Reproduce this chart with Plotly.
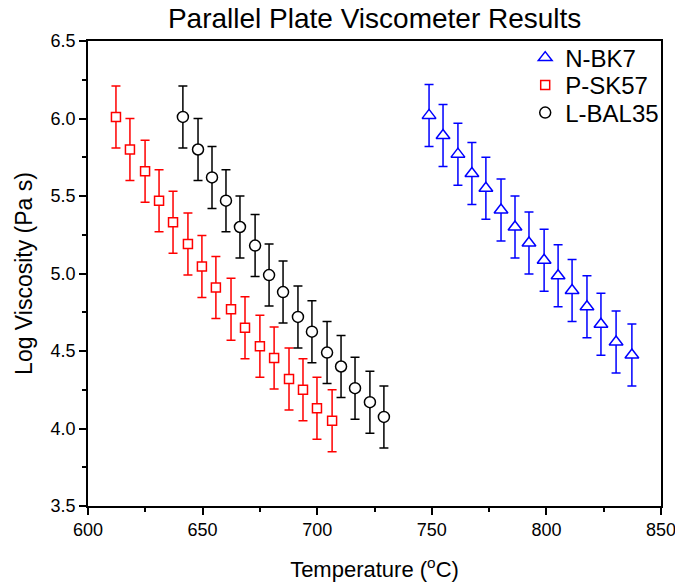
import plotly.graph_objects as go

# N-BK7
bk7_T = [748.8, 754.9, 761.4, 767.5, 773.6, 780.2, 786.3, 792.4, 799.0, 805.1, 811.2, 817.7, 823.8, 830.4, 837.3]
bk7_V = [6.02, 5.89, 5.77, 5.645, 5.55, 5.41, 5.30, 5.197, 5.086, 4.986, 4.89, 4.785, 4.673, 4.558, 4.474]
# P-SK57
psk_T = [612.2, 618.3, 624.9, 631.0, 637.1, 643.6, 649.7, 655.8, 662.4, 668.5, 675.0, 681.2, 687.7, 693.8, 699.9, 706.5]
psk_V = [6.01, 5.80, 5.66, 5.47, 5.33, 5.19, 5.045, 4.91, 4.77, 4.65, 4.53, 4.455, 4.32, 4.25, 4.13, 4.05]
# L-BAL35
bal_T = [641.4, 648.0, 654.1, 660.2, 666.3, 672.9, 679.0, 685.1, 691.6, 697.7, 704.3, 710.4, 716.5, 723.0, 729.1]
bal_V = [6.01, 5.80, 5.62, 5.47, 5.30, 5.18, 4.99, 4.88, 4.72, 4.625, 4.49, 4.40, 4.26, 4.17, 4.075]
err = 0.2

series = [
    ("N-BK7", bk7_T, bk7_V, "#0000FF", "triangle-up", 12, "legend"),
    ("P-SK57", psk_T, psk_V, "#FF0000", "square", 9, "legend2"),
    ("L-BAL35", bal_T, bal_V, "#000000", "circle", 11, "legend3"),
]

fig = go.Figure()
for name, xs, ys, col, sym, sz, lg in series:
    fig.add_trace(go.Scatter(
        x=xs, y=ys, mode="markers", name=name, legend=lg,
        marker=dict(symbol=sym, size=sz, color="white", line=dict(color=col, width=1.5)),
        error_y=dict(type="constant", value=err, color=col, thickness=1.5, width=4.5),
    ))

font_family = "Liberation Sans, Arial, sans-serif"
leg_common = dict(x=0.763, xanchor="left", yanchor="middle",
                  bgcolor="rgba(0,0,0,0)", font=dict(size=24), itemwidth=30)
fig.update_layout(
    width=675, height=584,
    margin=dict(l=88, r=14, t=41, b=78, autoexpand=False),
    paper_bgcolor="white", plot_bgcolor="white",
    font=dict(family=font_family, color="black", size=18),
    title=dict(text="Parallel Plate Viscometer Results", x=0.555, xanchor="center",
               y=0.968, yanchor="middle", font=dict(size=28)),
    legend=dict(y=0.9634, **leg_common),
    legend2=dict(y=0.9043, **leg_common),
    legend3=dict(y=0.8452, **leg_common),
    showlegend=True,
)
fig.update_xaxes(
    range=[600, 850], tickvals=[600, 650, 700, 750, 800, 850],
    ticks="outside", ticklen=7, tickwidth=1.5, tickcolor="black",
    showline=True, linewidth=1.5, linecolor="black", mirror=True,
    showgrid=False, zeroline=False, automargin=False, ticklabeloverflow="allow",
    minor=dict(tickvals=[625, 675, 725, 775, 825], ticks="outside", ticklen=4, tickwidth=1.5, tickcolor="black"),
    title=dict(text="Temperature (<sup>o</sup>C)", font=dict(size=22), standoff=22),
    tickfont=dict(size=18),
)
fig.update_yaxes(
    range=[3.5, 6.5], tickvals=[3.5, 4.0, 4.5, 5.0, 5.5, 6.0, 6.5], tickformat=".1f",
    ticks="outside", ticklen=7, tickwidth=1.5, tickcolor="black",
    showline=True, linewidth=1.5, linecolor="black", mirror=True,
    showgrid=False, zeroline=False, automargin=False, ticklabeloverflow="allow",
    minor=dict(tickvals=[3.75, 4.25, 4.75, 5.25, 5.75, 6.25], ticks="outside", ticklen=4, tickwidth=1.5, tickcolor="black"),
    title=dict(text="Log Viscosity (Pa s)", font=dict(size=23), standoff=12),
    tickfont=dict(size=18),
)

fig.write_html("out.html")
